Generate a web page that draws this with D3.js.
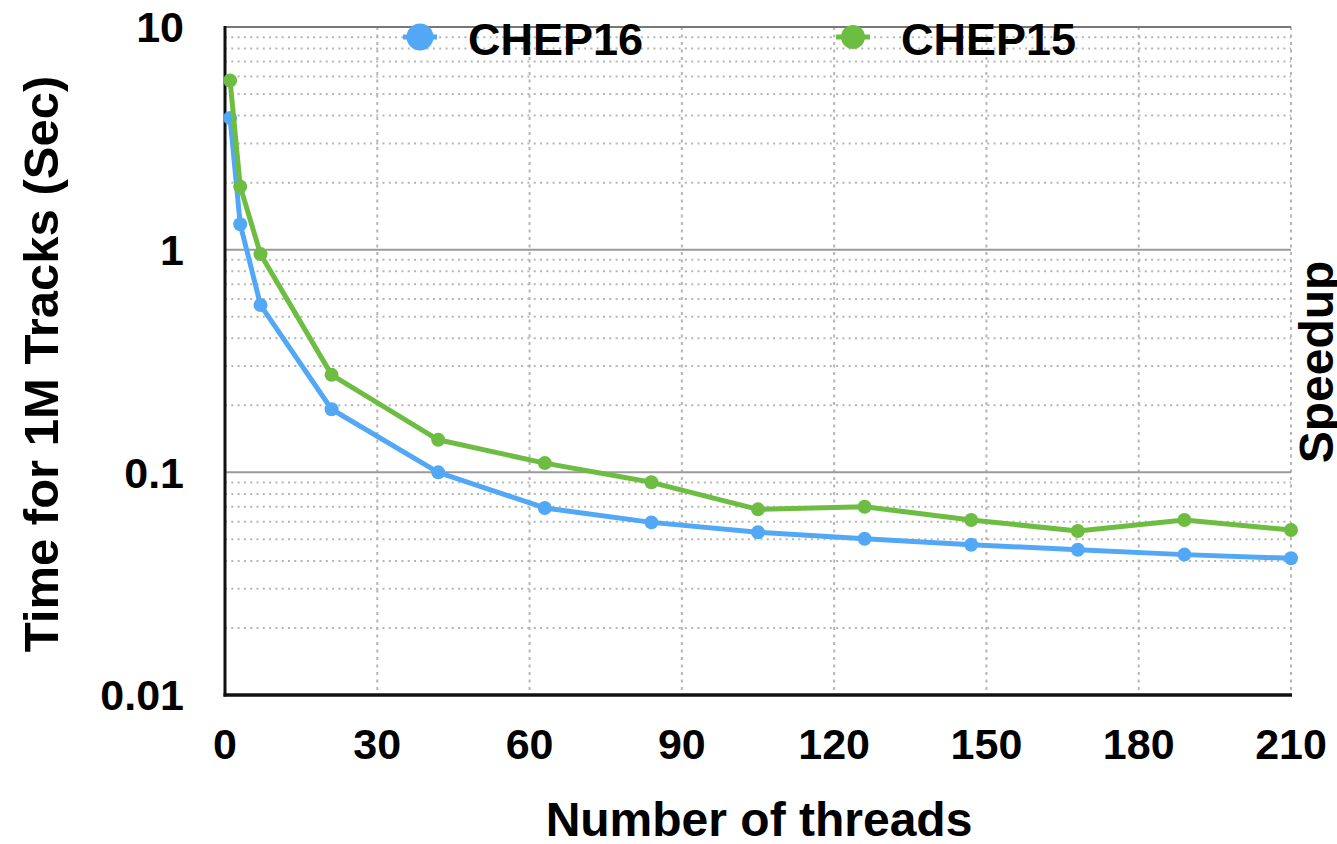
<!DOCTYPE html>
<html>
<head>
<meta charset="utf-8">
<script src="https://cdn.jsdelivr.net/npm/d3@7"></script>
<style>
  html, body { margin: 0; padding: 0; background: #fff; }
  svg text { font-family: "Liberation Sans", Arial, Helvetica, sans-serif; font-weight: bold; fill: #000; }
</style>
</head>
<body>
<svg id="chart" width="1337" height="844"></svg>
<script>
// Thread counts and time per 1M tracks (seconds)
const threads = [1, 3, 7, 21, 42, 63, 84, 105, 126, 147, 168, 189, 210];
const chep16 = [3.90, 1.30, 0.564, 0.192, 0.100, 0.0692, 0.0596, 0.0538, 0.0503, 0.0473, 0.0449, 0.0427, 0.0411];
const chep15 = [5.75, 1.92, 0.955, 0.274, 0.140, 0.110, 0.0902, 0.0682, 0.0701, 0.0611, 0.0545, 0.0611, 0.0551];

const seriesNames = ["CHEP16", "CHEP15"];
const seriesColors = ["#53a8f6", "#6dbd43"];
const xTicks = [0, 30, 60, 90, 120, 150, 180, 210];
const yTicks = [0.01, 0.1, 1, 10];
const yTickLabels = ["0.01", "0.1", "1", "10"];

const svg = d3.select("#chart");
const plotL = 225, plotR = 1291, plotT = 27, plotB = 695;

const x = d3.scaleLinear().domain([0, 210]).range([plotL, plotR]);
const y = d3.scaleLog().domain([0.01, 10]).range([plotB, plotT]);

// Minor log gridlines (2..9 of each decade), dotted
const minor = [];
[0.01, 0.1, 1].forEach(d => { for (let k = 2; k <= 9; k++) minor.push(d * k); });
svg.append("g").selectAll("line").data(minor).join("line")
  .attr("x1", plotL).attr("x2", plotR)
  .attr("y1", d => y(d)).attr("y2", d => y(d))
  .attr("stroke", "#b5b5b5").attr("stroke-width", 2)
  .attr("stroke-dasharray", "2,4.3");

// Vertical dotted gridlines
svg.append("g").selectAll("line").data(xTicks.slice(1)).join("line")
  .attr("x1", d => x(d)).attr("x2", d => x(d))
  .attr("y1", plotT).attr("y2", plotB)
  .attr("stroke", "#b5b5b5").attr("stroke-width", 2)
  .attr("stroke-dasharray", "3,4.5");

// Major decade gridlines
svg.append("g").selectAll("line").data([0.1, 1, 10]).join("line")
  .attr("x1", plotL).attr("x2", plotR)
  .attr("y1", d => y(d)).attr("y2", d => y(d))
  .attr("stroke", d => d === 10 ? "#777" : "#9a9a9a").attr("stroke-width", 2);

// Axis lines
svg.append("line").attr("x1", plotL).attr("x2", plotL).attr("y1", plotT - 1).attr("y2", plotB + 1.5)
  .attr("stroke", "#111").attr("stroke-width", 3);
svg.append("line").attr("x1", plotL - 1.5).attr("x2", plotR + 1).attr("y1", plotB).attr("y2", plotB)
  .attr("stroke", "#111").attr("stroke-width", 3.5);

// Tick labels
svg.append("g").selectAll("text").data(yTicks).join("text")
  .attr("x", 184).attr("y", d => y(d))
  .attr("dy", "0.36em").attr("text-anchor", "end")
  .style("font-size", "43px")
  .text((d, i) => yTickLabels[i]);

svg.append("g").selectAll("text").data(xTicks).join("text")
  .attr("x", d => x(d)).attr("y", 759)
  .attr("text-anchor", "middle")
  .style("font-size", "43px")
  .text(d => d);

// Axis titles
svg.append("text")
  .attr("transform", `translate(58,${(plotT + plotB) / 2 + 3}) rotate(-90)`)
  .attr("text-anchor", "middle")
  .style("font-size", "49px")
  .text("Time for 1M Tracks (Sec)");

svg.append("text")
  .attr("x", 759).attr("y", 836)
  .attr("text-anchor", "middle")
  .style("font-size", "48px")
  .text("Number of threads");

svg.append("text")
  .attr("transform", `translate(1333,362) rotate(-90)`)
  .attr("text-anchor", "middle")
  .style("font-size", "48px")
  .text("Speedup");

// Series lines and markers
const line = d3.line().x((d, i) => x(threads[i])).y(d => y(d));
[chep16, chep15].forEach((vals, s) => {
  const g = svg.append("g");
  g.append("path").datum(vals)
    .attr("d", line)
    .attr("fill", "none")
    .attr("stroke", seriesColors[s])
    .attr("stroke-width", 5)
    .attr("stroke-linejoin", "round");
  g.selectAll("circle").data(vals).join("circle")
    .attr("cx", (d, i) => x(threads[i]))
    .attr("cy", d => y(d))
    .attr("r", 7)
    .attr("fill", seriesColors[s]);
});

// Legend
const legendX = [420, 853];
const legend = svg.append("g").selectAll("g").data(seriesNames).join("g")
  .attr("transform", (d, i) => `translate(${legendX[i]},37)`);
legend.append("line")
  .attr("x1", -17).attr("x2", 17).attr("y1", 0).attr("y2", 0)
  .attr("stroke", (d, i) => seriesColors[i]).attr("stroke-width", 5);
legend.append("circle")
  .attr("r", (d, i) => i === 0 ? 13.5 : 12)
  .attr("fill", (d, i) => seriesColors[i]);
legend.append("text")
  .attr("x", 48).attr("y", 18)
  .style("font-size", "45px")
  .text(d => d);
</script>
</body>
</html>
